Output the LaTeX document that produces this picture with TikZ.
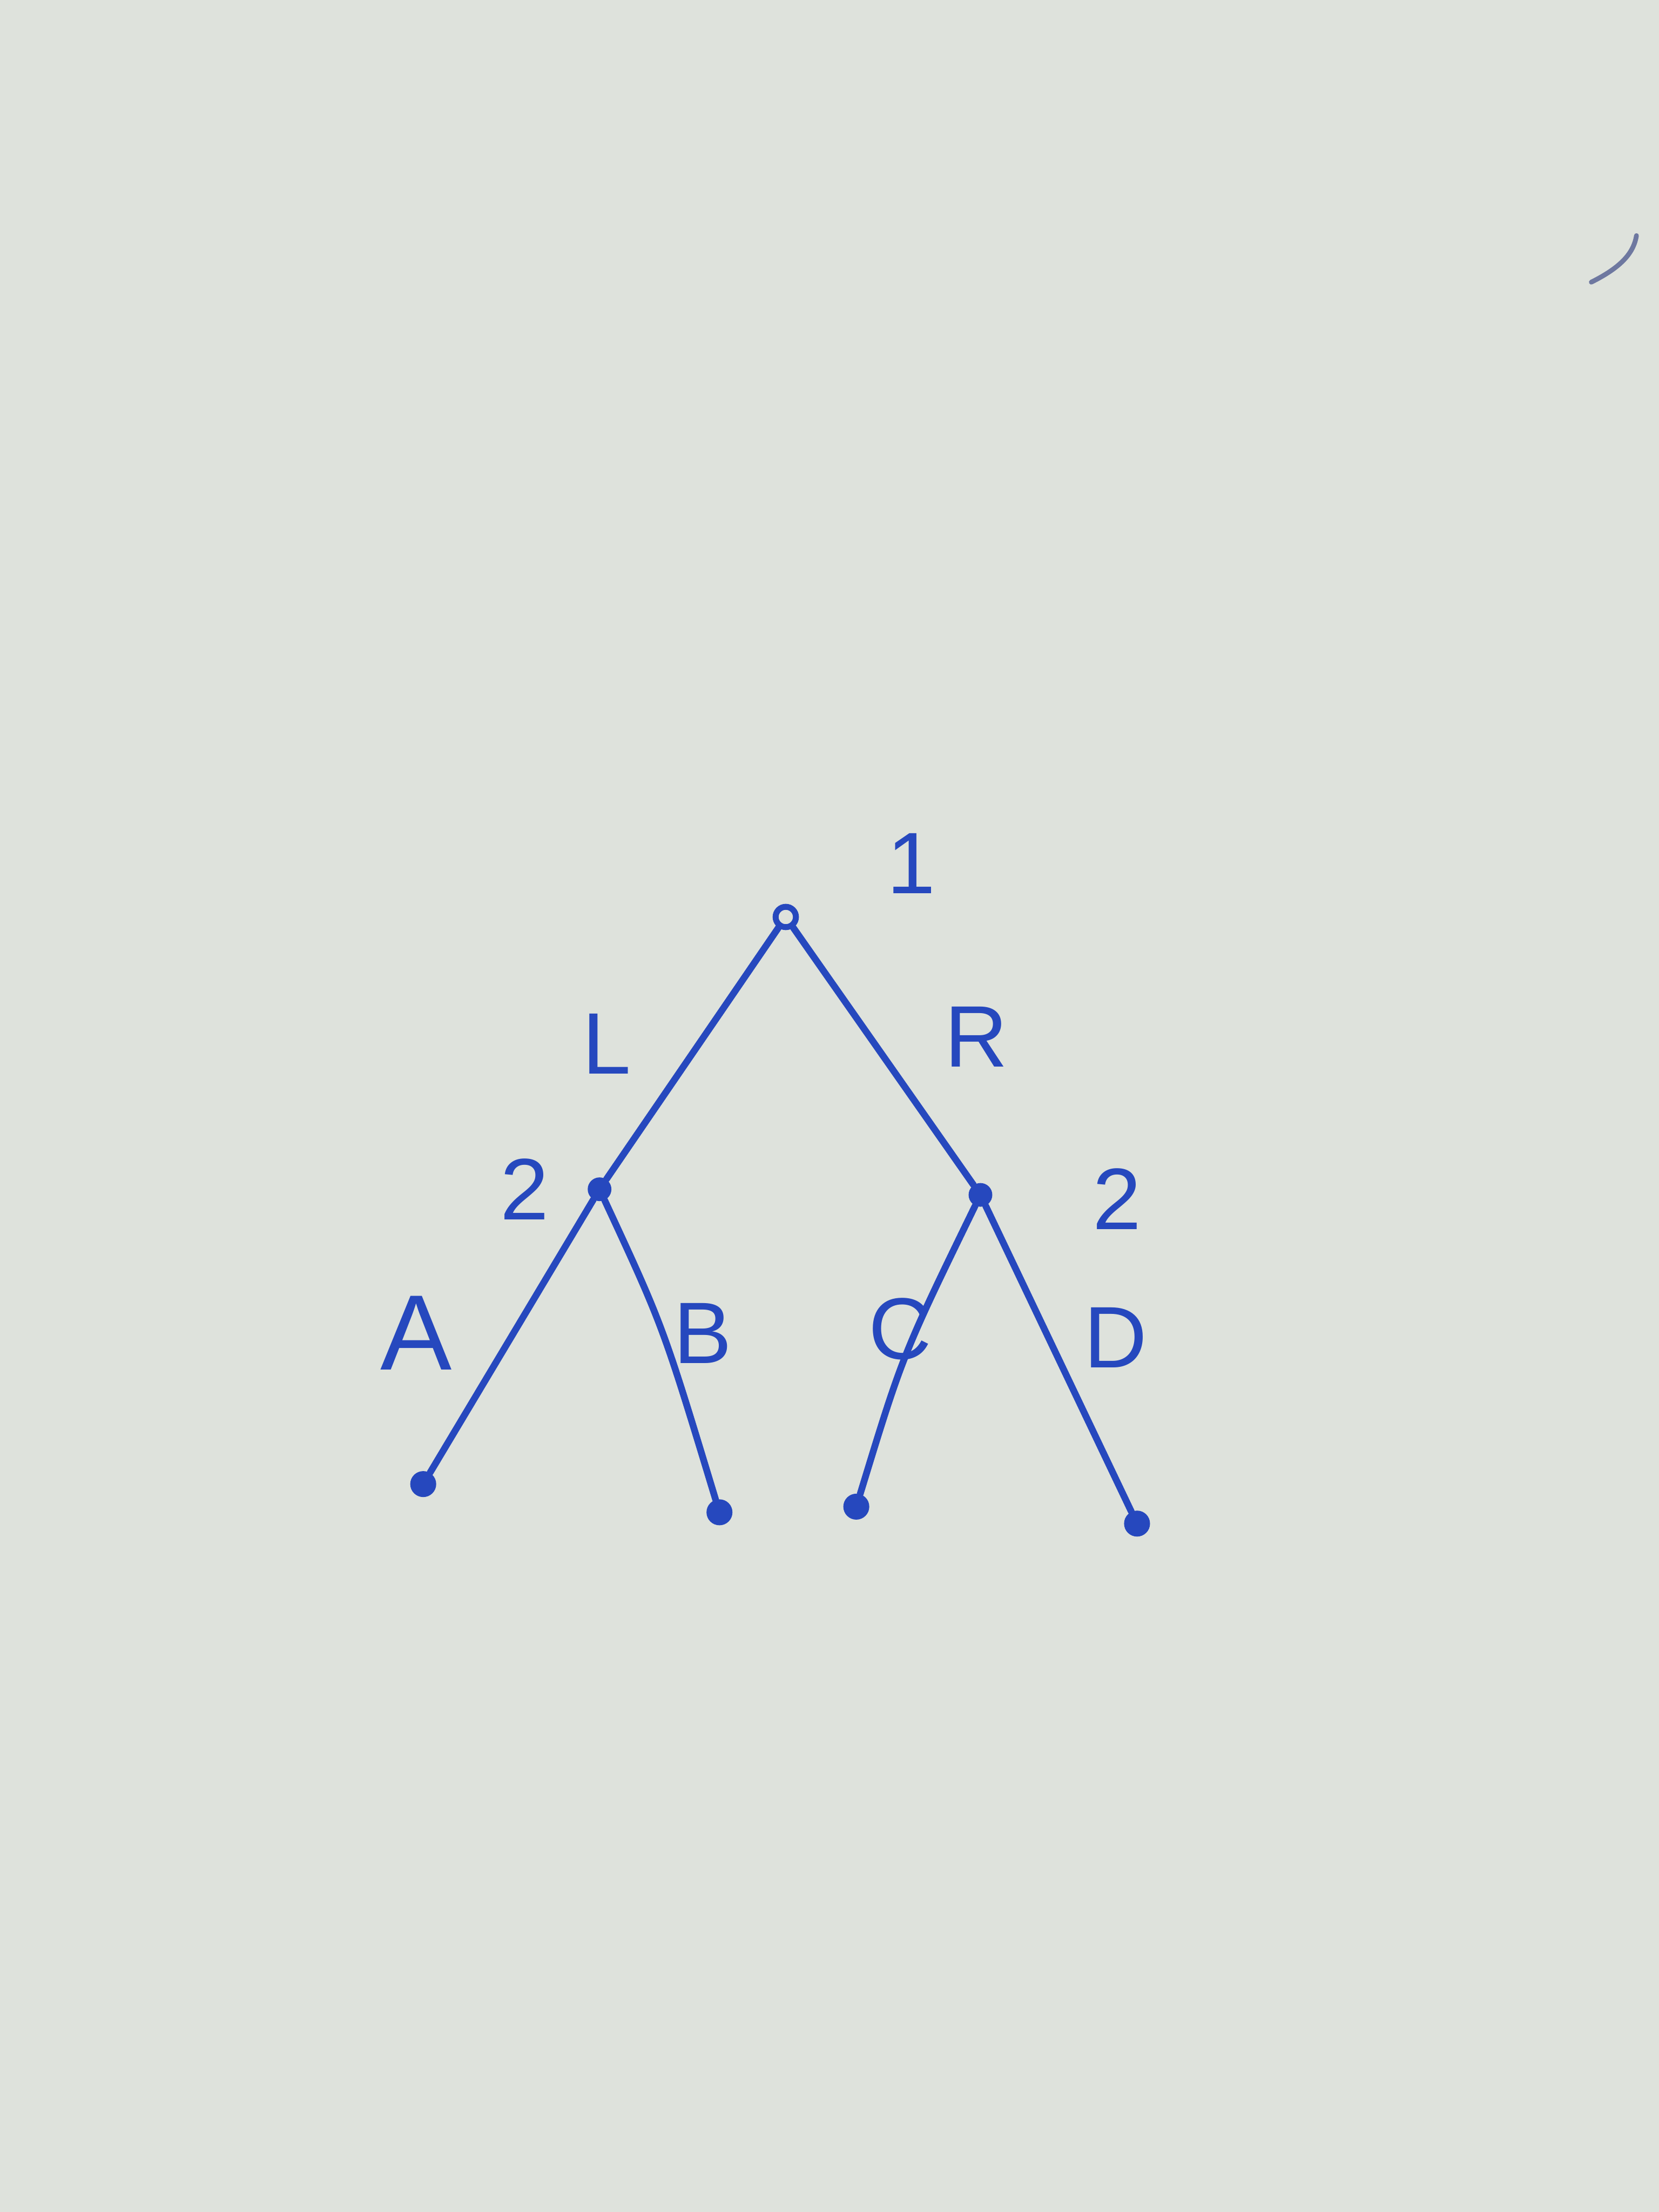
\documentclass[tikz,border=0pt]{standalone}
\usepackage{fontspec}
\setmainfont{Liberation Sans}
\usepackage{tikz}
\definecolor{paper}{RGB}{222,226,220}
\definecolor{ink}{RGB}{38,72,190}
\definecolor{faint}{RGB}{110,120,160}
\begin{document}
\begin{tikzpicture}[x=0.025cm,y=-0.025cm,
  edge/.style={draw=ink,line width=3.4pt,line cap=round,line join=round},
  opennode/.style={circle,draw=ink,line width=3pt,fill=paper,minimum size=0.36cm,inner sep=0pt},
  decnode/.style={circle,fill=ink,minimum size=0.42cm,inner sep=0pt},
  leafnode/.style={circle,fill=ink,minimum size=0.46cm,inner sep=0pt},
  lbl/.style={text=ink,font=\fontsize{44}{48}\selectfont,inner sep=0pt}]
\useasboundingbox (0,0) rectangle (1176,1568);
\fill[paper] (0,0) rectangle (1176,1568);
% stray mark
\draw[faint,line width=2.4pt,line cap=round] (1128,200) .. controls (1148,190) and (1158,180) .. (1160,167);
% nodes
\node[opennode] (root) at (557,650) {};
\node[decnode] (l2) at (425,843) {};
\node[decnode] (r2) at (695,847) {};
\node[leafnode] (la) at (300,1052) {};
\node[leafnode] (lb) at (510,1072) {};
\node[leafnode] (lc) at (607,1068) {};
\node[leafnode] (ld) at (806,1080) {};
% edges
\draw[edge] (root) -- (l2);
\draw[edge] (root) -- (r2);
\draw[edge] (l2) -- (la);
\draw[edge] (l2) .. controls (470,940) .. (lb);
\draw[edge] (r2) .. controls (640,960) .. (lc);
\draw[edge] (r2) -- (ld);
% labels
\node[lbl] (t1) at (646,612) {1};
\node[lbl] (tL) at (430,740) {L};
\node[lbl] (tR) at (692,735) {R};
\node[lbl] (t2l) at (372,843) {2};
\node[lbl] (t2r) at (792,850) {2};
\node[lbl,font=\fontsize{54}{58}\selectfont] (tA) at (295,945) {A};
\node[lbl] (tB) at (498,945) {B};
\node[lbl] (tC) at (638,942) {C};
\node[lbl] (tD) at (791,948) {D};
\end{tikzpicture}
\end{document}
